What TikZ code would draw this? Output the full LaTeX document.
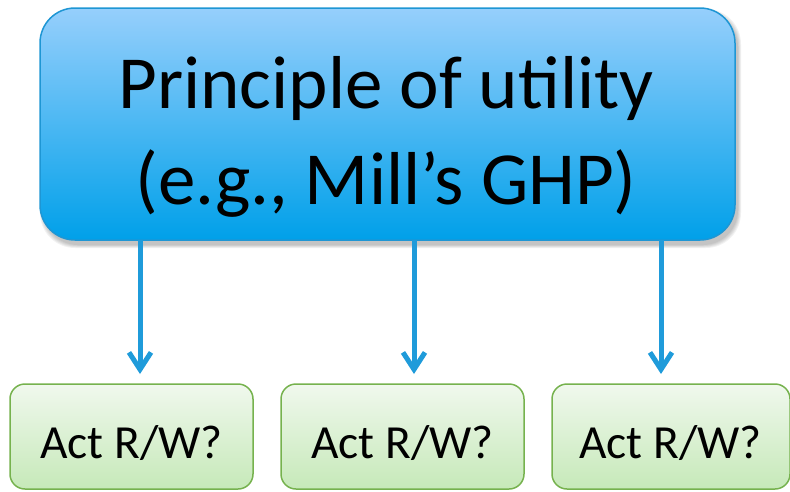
\documentclass[tikz,border=0pt]{standalone}
\usepackage{fontspec}
\setmainfont{Carlito}
\usetikzlibrary{arrows.meta}
\definecolor{topA}{RGB}{150,207,252}
\definecolor{topB}{RGB}{0,160,233}
\definecolor{topE}{RGB}{30,150,212}
\definecolor{grA}{RGB}{240,248,237}
\definecolor{grB}{RGB}{198,233,185}
\definecolor{grE}{RGB}{118,178,78}
\definecolor{arrC}{RGB}{31,155,218}
\tikzset{
  x=1pt,y=1pt,
  topbox/.style={draw=topE,line width=1.5pt,rounded corners=35pt,top color=topA,bottom color=topB,shading angle=0},
  actbox/.style={draw=grE,line width=1.5pt,rounded corners=15pt,top color=grA,bottom color=grB},
  bigtxt/.style={inner sep=0pt,anchor=base,font=\fontsize{75}{96}\selectfont},
  smalltxt/.style={inner sep=0pt,anchor=base,font=\fontsize{47.5}{56}\selectfont},
  arr/.style={draw=arrC,line width=5pt,-{Straight Barb[length=17pt,width=22pt,line width=5pt]}},
}
\begin{document}
\begin{tikzpicture}
\useasboundingbox (0,0) rectangle (790,-491);
% soft shadow under the top box
\foreach \s in {0,1.5,3,4.5,6}{
  \fill[black,opacity=0.05,rounded corners=35pt] (40+3-\s/2,-8-4+\s/2) rectangle (735+3+\s/2,-240-5-\s/2);
}
\path[topbox] (40,-8) rectangle (735,-240);
\node[inner sep=0pt,minimum width=695pt,minimum height=232pt] (top) at (387.5,-124) {};
\node[bigtxt] (t1) at (386,-108) {Principle of utility};
\node[bigtxt] (t2) at (386,-204) {(e.g., Mill’s GHP)};
% act boxes
\node[actbox,minimum width=243pt,minimum height=105pt,inner sep=0pt] (b1) at (131.5,-436.5) {};
\node[actbox,minimum width=243pt,minimum height=105pt,inner sep=0pt] (b2) at (402.5,-436.5) {};
\node[actbox,minimum width=238pt,minimum height=105pt,inner sep=0pt] (b3) at (671,-436.5) {};
\node[smalltxt] (l1) at (131.5,-458) {Act R/W?};
\node[smalltxt] (l2) at (402.5,-458) {Act R/W?};
\node[smalltxt] (l3) at (670.5,-458) {Act R/W?};
% arrows
\coordinate (a1) at (140,-374);
\coordinate (a2) at (414,-374);
\coordinate (a3) at (661,-374);
\draw[arr] (top.south -| a1) -- (a1);
\draw[arr] (top.south -| a2) -- (a2);
\draw[arr] (top.south -| a3) -- (a3);
\end{tikzpicture}
\end{document}
